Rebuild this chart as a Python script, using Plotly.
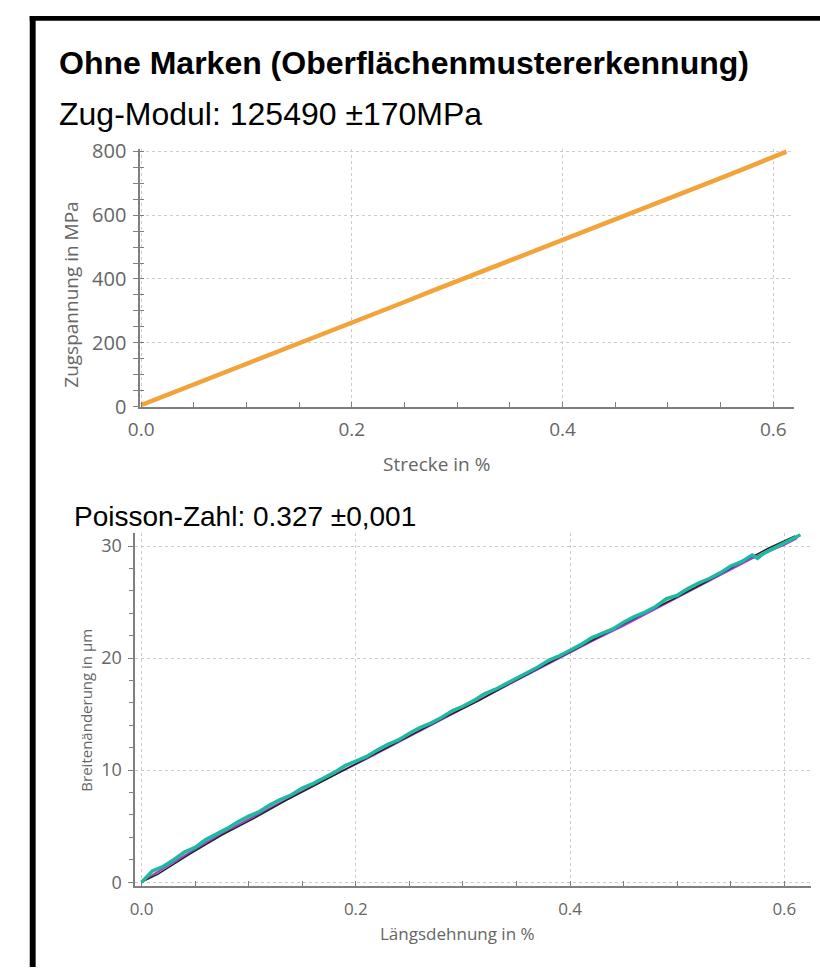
import plotly.graph_objects as go

W, H = 820, 980

# ---------------- data ----------------
# top chart: Zugspannung vs Strecke
strain_top = [0, 0.025, 0.05, 0.075, 0.1, 0.125, 0.15, 0.175, 0.2, 0.225, 0.25, 0.275, 0.3,
              0.325, 0.35, 0.375, 0.4, 0.425, 0.45, 0.475, 0.5, 0.525, 0.55, 0.575, 0.6, 0.6125]
stress_top = [5, 37, 70, 102, 134, 167, 199, 231, 263, 296, 328, 361, 393,
              425, 458, 490, 522, 555, 587, 619, 652, 684, 716, 749, 781, 799]

# bottom chart: Breitenänderung vs Längsdehnung (several overlapping series)
x_teal = [0.0, 0.01, 0.02, 0.03, 0.04, 0.05, 0.06, 0.07, 0.08, 0.09, 0.10, 0.11, 0.12, 0.13,
          0.14, 0.15, 0.16, 0.17, 0.18, 0.19, 0.20, 0.21, 0.22, 0.23, 0.24, 0.25, 0.26, 0.27,
          0.28, 0.29, 0.30, 0.31, 0.32, 0.33, 0.34, 0.35, 0.36, 0.37, 0.38, 0.39, 0.40, 0.41,
          0.42, 0.43, 0.44, 0.45, 0.46, 0.47, 0.48, 0.49, 0.50, 0.51, 0.52, 0.53, 0.54, 0.55,
          0.56, 0.57, 0.575, 0.58, 0.59, 0.60, 0.61, 0.615]
y_teal = [0.0, 1.0, 1.4, 2.0, 2.7, 3.1, 3.8, 4.3, 4.8, 5.4, 5.9, 6.3, 6.9, 7.4,
          7.8, 8.4, 8.8, 9.3, 9.8, 10.4, 10.8, 11.2, 11.8, 12.3, 12.7, 13.3, 13.8, 14.2,
          14.7, 15.3, 15.7, 16.2, 16.8, 17.2, 17.7, 18.2, 18.7, 19.2, 19.8, 20.2, 20.7, 21.2,
          21.8, 22.2, 22.6, 23.2, 23.7, 24.1, 24.6, 25.3, 25.6, 26.2, 26.7, 27.1, 27.6, 28.2,
          28.6, 29.2, 28.9, 29.3, 29.8, 30.3, 30.8, 31.0]

x_purple = [0.0, 0.03, 0.06, 0.09, 0.12, 0.15, 0.18, 0.21, 0.24, 0.27, 0.30, 0.33, 0.36,
            0.39, 0.42, 0.45, 0.48, 0.51, 0.54, 0.57, 0.60, 0.612]
y_purple = [0.0, 1.8, 3.5, 5.1, 6.6, 8.1, 9.6, 11.0, 12.5, 14.0, 15.5, 17.0, 18.5,
            20.0, 21.5, 22.9, 24.4, 25.9, 27.4, 28.9, 30.1, 30.7]

x_black = [0.0, 0.015, 0.045, 0.075, 0.105, 0.135, 0.165, 0.195, 0.225, 0.255, 0.285, 0.315,
           0.345, 0.375, 0.405, 0.435, 0.465, 0.495, 0.525, 0.555, 0.585, 0.61]
y_black = [0.0, 0.7, 2.5, 4.2, 5.7, 7.3, 8.8, 10.3, 11.8, 13.3, 14.8, 16.2,
           17.8, 19.3, 20.8, 22.3, 23.8, 25.2, 26.7, 28.3, 29.8, 30.9]

x_yellow = [0.0, 0.04, 0.08, 0.12, 0.16, 0.20, 0.24, 0.28, 0.32, 0.36, 0.40, 0.44, 0.48,
            0.52, 0.56, 0.60]
y_yellow = [0.0, 2.6, 4.7, 6.8, 8.8, 10.8, 12.8, 14.7, 16.7, 18.7, 20.6, 22.6, 24.6,
            26.6, 28.6, 30.2]

# texts
heading = "Ohne Marken (Oberflächenmustererkennung)"
label_top = "Zug-Modul: 125490 ±170MPa"
label_bottom = "Poisson-Zahl: 0.327 ±0,001"
xtitle_top = "Strecke in %"
ytitle_top = "Zugspannung in MPa"
xtitle_bottom = "Längsdehnung in %"
ytitle_bottom = "Breitenänderung in µm"

# ---------------- helpers ----------------
def px(x):
    return x / W

def py(y):
    return 1 - y / H

AXC = "#7f7f7f"
GRID = "#cccccc"
TXT = "#666666"
TICKFONT = "Open Sans, Noto Sans, sans-serif"
HEADFONT = "Liberation Sans, Arial, sans-serif"

fig = go.Figure()

fig.add_trace(go.Scatter(x=strain_top, y=stress_top, mode="lines",
                         line=dict(color="#F2A33A", width=4.5), xaxis="x", yaxis="y",
                         showlegend=False, hoverinfo="skip"))
fig.add_trace(go.Scatter(x=x_yellow, y=y_yellow, mode="lines",
                         line=dict(color="#c9d23a", width=2), xaxis="x2", yaxis="y2",
                         showlegend=False))
fig.add_trace(go.Scatter(x=x_purple, y=y_purple, mode="lines",
                         line=dict(color="#9b3fd6", width=2), xaxis="x2", yaxis="y2",
                         showlegend=False))
fig.add_trace(go.Scatter(x=x_black, y=y_black, mode="lines",
                         line=dict(color="#222222", width=1.5), xaxis="x2", yaxis="y2",
                         showlegend=False))
fig.add_trace(go.Scatter(x=x_teal, y=y_teal, mode="lines",
                         line=dict(color="#1fb8a2", width=3.5), xaxis="x2", yaxis="y2",
                         showlegend=False))

common_axis = dict(showline=True, linecolor=AXC, linewidth=1.5, zeroline=False,
                   gridcolor=GRID, griddash="3px,3px", gridwidth=1,
                   tickcolor=AXC, tickwidth=1)

fig.update_layout(
    width=W, height=H,
    margin=dict(l=0, r=0, t=0, b=0),
    paper_bgcolor="white", plot_bgcolor="white",
    xaxis=dict(common_axis, domain=[px(130), px(794)], range=[-0.001, 0.62], anchor="y",
               dtick=0.2, tickformat=".1f", ticks="inside", ticklen=5,
               minor=dict(dtick=0.05, ticks="inside", ticklen=5, tickcolor=AXC, showgrid=False),
               tickfont=dict(family=TICKFONT, size=19, color=TXT), ticklabelstandoff=5),
    yaxis=dict(common_axis, domain=[py(405), py(141)], range=[0, 806], anchor="x",
               dtick=200, ticks="outside", ticklen=5,
               minor=dict(dtick=50, ticks="outside", ticklen=5, tickcolor=AXC, showgrid=False),
               tickfont=dict(family=TICKFONT, size=20, color=TXT), ticklabelstandoff=3),
    yaxis3=dict(overlaying="y", anchor="x", range=[0, 806], showgrid=False, zeroline=False,
                showline=False, showticklabels=False, dtick=200, ticks="inside", ticklen=4,
                tickcolor=AXC,
                minor=dict(dtick=50, ticks="inside", ticklen=4, tickcolor=AXC, showgrid=False)),
    xaxis2=dict(common_axis, domain=[px(125), px(811)], range=[-0.006, 0.625], anchor="y2",
                dtick=0.2, tickformat=".1f", ticks="inside", ticklen=5,
                minor=dict(dtick=0.05, ticks="inside", ticklen=5, tickcolor=AXC, showgrid=False),
                tickfont=dict(family=TICKFONT, size=17, color=TXT), ticklabelstandoff=7),
    yaxis2=dict(common_axis, domain=[py(897), py(535)], range=[-0.35, 31.13], anchor="x2",
                dtick=10, ticks="outside", ticklen=5,
                minor=dict(dtick=2, ticks="outside", ticklen=4, tickcolor=AXC, showgrid=False),
                tickfont=dict(family=TICKFONT, size=18, color=TXT), ticklabelstandoff=3),
)

# empty trace that activates the overlay axis (ticks on the inner side of the top y axis)
fig.add_trace(go.Scatter(x=[None], y=[None], xaxis="x", yaxis="y3", showlegend=False))

ann = [
    dict(text="<b>" + heading + "</b>", x=px(46), y=py(52), xanchor="left", yanchor="middle",
         font=dict(family=HEADFONT, size=32, color="black")),
    dict(text=label_top, x=px(46), y=py(105), xanchor="left", yanchor="middle",
         font=dict(family=HEADFONT, size=32, color="black")),
    dict(text=label_bottom, x=px(61), y=py(518), xanchor="left", yanchor="middle",
         font=dict(family=HEADFONT, size=28, color="black")),
    dict(text=xtitle_top, x=px(431), y=py(464), xanchor="center", yanchor="middle",
         font=dict(family=TICKFONT, size=19, color=TXT)),
    dict(text=ytitle_top, x=px(59), y=py(290), xanchor="center", yanchor="middle",
         textangle=-90, font=dict(family=TICKFONT, size=19, color=TXT)),
    dict(text=xtitle_bottom, x=px(452), y=py(946), xanchor="center", yanchor="middle",
         font=dict(family=TICKFONT, size=17, color=TXT)),
    dict(text=ytitle_bottom, x=px(75), y=py(716), xanchor="center", yanchor="middle",
         textangle=-90, font=dict(family=TICKFONT, size=15, color=TXT)),
]
for a in ann:
    a.update(xref="paper", yref="paper", showarrow=False)
fig.update_layout(annotations=ann)

# black frame (top and left edges)
fig.add_shape(type="rect", xref="paper", yref="paper", x0=px(18), x1=1, y0=py(9), y1=py(4),
              fillcolor="black", line=dict(width=0), layer="above")
fig.add_shape(type="rect", xref="paper", yref="paper", x0=px(18), x1=px(24), y0=0, y1=py(4),
              fillcolor="black", line=dict(width=0), layer="above")

fig.write_html("out.html", config={"displayModeBar": False},
               post_script="document.body.style.margin='0';document.body.style.overflow='hidden';")
